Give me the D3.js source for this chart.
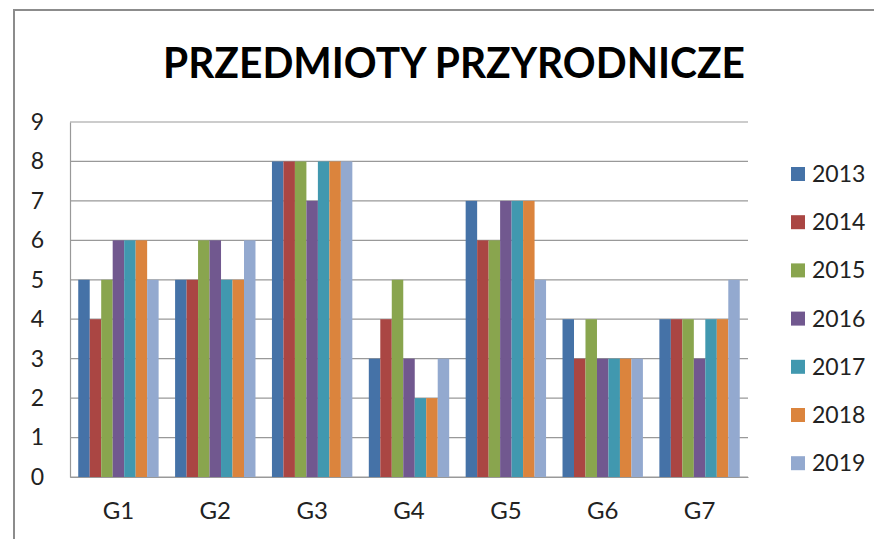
<!DOCTYPE html>
<html>
<head>
<meta charset="utf-8">
<script src="https://cdn.jsdelivr.net/npm/d3@7"></script>
<style>
  body { margin: 0; background: #fff; }
  svg { display: block; }
  text { font-family: Lato, "Open Sans", sans-serif; fill: #222; }
</style>
</head>
<body>
<script>
// data
var groups = ["G1", "G2", "G3", "G4", "G5", "G6", "G7"];
var years = ["2013", "2014", "2015", "2016", "2017", "2018", "2019"];
var y2013 = [5, 5, 8, 3, 7, 4, 4];
var y2014 = [4, 5, 8, 4, 6, 3, 4];
var y2015 = [5, 6, 8, 5, 6, 4, 4];
var y2016 = [6, 6, 7, 3, 7, 3, 3];
var y2017 = [6, 5, 8, 2, 7, 3, 4];
var y2018 = [6, 5, 8, 2, 7, 3, 4];
var y2019 = [5, 6, 8, 3, 5, 3, 5];
var yTicks = [0, 1, 2, 3, 4, 5, 6, 7, 8, 9];

var series = [y2013, y2014, y2015, y2016, y2017, y2018, y2019];
var colors = ["#4572A7", "#AA4643", "#89A54E", "#71588F", "#4198AF", "#DB843D", "#93A9CF"];

var W = 874, H = 539;
var plot = {left: 70, right: 748, top: 122, bottom: 477};

var svg = d3.select("body").append("svg")
	.attr("width", W)
	.attr("height", H);

// outer chart frame (runs off the right and bottom edges)
svg.append("rect")
	.attr("x", 14).attr("y", 10)
	.attr("width", 900).attr("height", 600)
	.attr("fill", "none")
	.attr("stroke", "#8c8c8c")
	.attr("stroke-width", 2);

svg.append("text")
	.attr("x", 454).attr("y", 78)
	.attr("text-anchor", "middle")
	.attr("font-size", "42px")
	.attr("font-weight", "bold")
	.attr("textLength", 582)
	.attr("lengthAdjust", "spacingAndGlyphs")
	.style("fill", "#000")
	.text("PRZEDMIOTY PRZYRODNICZE");

var x0 = d3.scaleBand()
	.domain(groups)
	.range([plot.left, plot.right])
	.paddingInner(0.17)
	.paddingOuter(0.085);

var x1 = d3.scaleBand()
	.domain(years)
	.range([0, x0.bandwidth()]);

var y = d3.scaleLinear().domain([0, 9]).range([plot.bottom, plot.top]);

var color = d3.scaleOrdinal().domain(years).range(colors);

// gridlines
svg.append("g")
	.selectAll("line")
	.data(yTicks)
	.enter().append("line")
	.attr("x1", plot.left).attr("x2", plot.right)
	.attr("y1", (d) => y(d)).attr("y2", (d) => y(d))
	.attr("stroke", "#999")
	.attr("stroke-width", 1.2);

// bars
var rows = [];
groups.forEach((g, i) => {
	years.forEach((yr, j) => {
		rows.push({group: g, year: yr, value: series[j][i]});
	});
});

svg.append("g")
	.selectAll("rect")
	.data(rows)
	.enter().append("rect")
	.attr("x", (d) => x0(d.group) + x1(d.year))
	.attr("y", (d) => y(d.value))
	.attr("width", x1.bandwidth())
	.attr("height", (d) => y(0) - y(d.value))
	.attr("fill", (d) => color(d.year));

// axes
var leftAxis = d3.axisLeft(y).tickValues(yTicks).tickSize(0).tickPadding(26);
var gl = svg.append("g")
	.attr("transform", "translate(" + plot.left + ",0)")
	.call(leftAxis);
gl.selectAll("text").attr("font-size", "23px").attr("font-family", "Lato, sans-serif").style("fill", "#222");
gl.select(".domain").attr("stroke", "#999").attr("stroke-width", 1.2);

var bottomAxis = d3.axisBottom(x0).tickSize(0).tickPadding(25);
var gb = svg.append("g")
	.attr("transform", "translate(0," + plot.bottom + ")")
	.call(bottomAxis);
gb.selectAll("text").attr("font-size", "24px").attr("font-family", "Lato, sans-serif").style("fill", "#222");
gb.select(".domain").attr("stroke", "#999").attr("stroke-width", 1.2);

// legend
var legend = svg.append("g")
	.selectAll("g")
	.data(years)
	.enter().append("g")
	.attr("transform", (d, i) => "translate(791," + (174 + i * 48.2) + ")");

legend.append("rect")
	.attr("x", 0).attr("y", -7)
	.attr("width", 14).attr("height", 14)
	.attr("fill", (d) => color(d));

legend.append("text")
	.attr("x", 21).attr("y", 8)
	.attr("font-size", "23px")
	.text((d) => d);
</script>
</body>
</html>
